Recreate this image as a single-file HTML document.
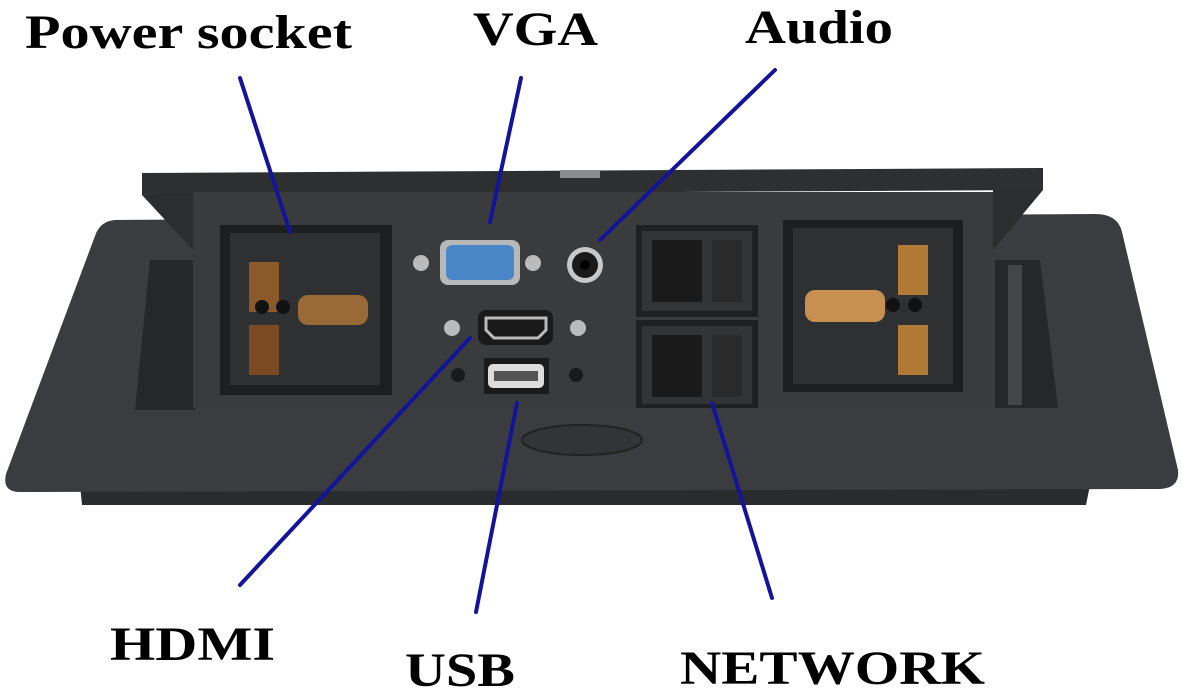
<!DOCTYPE html>
<html><head><meta charset="utf-8"><style>
html,body{margin:0;padding:0;background:#fff;}
svg{display:block}
text{font-family:"Liberation Serif",serif;font-weight:bold;fill:#000}
</style></head><body>
<svg width="1182" height="692" viewBox="0 0 1182 692">
<!-- base plate bottom strip -->
<polygon points="80,485 1090,485 1086,505 82,505" fill="#2a2b2d"/>
<!-- base plate -->
<path d="M115,220 L1095,214 Q1118,214 1122,232 L1178,470 Q1180,488 1160,489 L20,492 Q2,492 6,474 L95,236 Q100,221 115,220 Z" fill="#3b3c3f"/>
<!-- recess slots -->
<polygon points="150,260 195,260 195,410 135,410" fill="#26272a"/>
<polygon points="995,260 1040,260 1058,408 995,408" fill="#26272a"/>
<rect x="1008" y="265" width="14" height="140" fill="#444548"/>
<!-- lid -->
<polygon points="142,173 1043,168 1043,190 142,195" fill="#2e2f31"/>
<rect x="560" y="170" width="40" height="8" fill="#8a8b8d"/>
<polygon points="142,195 193,193 193,250" fill="#2c2d2f"/>
<polygon points="993,190 1043,190 993,250" fill="#2c2d2f"/>
<!-- front panel -->
<rect x="193" y="192" width="800" height="216" fill="#3a3b3d"/>
<!-- left socket -->
<rect x="220" y="225" width="172" height="170" fill="#1d1e1f"/>
<rect x="230" y="233" width="150" height="152" fill="#2f3032"/>
<rect x="249" y="262" width="30" height="50" fill="#8a5a2a"/>
<rect x="249" y="325" width="30" height="50" fill="#7a4a22"/>
<circle cx="262" cy="307" r="7" fill="#111"/><circle cx="283" cy="307" r="7" fill="#111"/>
<rect x="298" y="295" width="70" height="30" rx="10" fill="#9a6a36"/>
<!-- right socket -->
<rect x="783" y="220" width="180" height="172" fill="#1d1e1f"/>
<rect x="793" y="228" width="160" height="156" fill="#2f3032"/>
<rect x="898" y="245" width="30" height="50" fill="#b07a35"/>
<rect x="898" y="325" width="30" height="50" fill="#b07a35"/>
<circle cx="893" cy="305" r="7" fill="#111"/><circle cx="915" cy="305" r="7" fill="#111"/>
<rect x="805" y="290" width="80" height="32" rx="10" fill="#c89050"/>
<!-- RJ45 -->
<rect x="636" y="225" width="122" height="92" fill="#1f2022"/>
<rect x="642" y="231" width="110" height="80" fill="#333436"/>
<rect x="652" y="240" width="50" height="62" fill="#1a1a1b"/>
<rect x="712" y="240" width="30" height="62" fill="#2a2a2b"/>
<rect x="636" y="320" width="122" height="88" fill="#1f2022"/>
<rect x="642" y="326" width="110" height="78" fill="#333436"/>
<rect x="652" y="335" width="50" height="62" fill="#1a1a1b"/>
<rect x="712" y="335" width="30" height="62" fill="#2a2a2b"/>
<!-- VGA -->
<rect x="440" y="240" width="80" height="45" rx="8" fill="#b8b8b8"/>
<rect x="446" y="245" width="68" height="35" rx="6" fill="#4a86c8"/>
<circle cx="421" cy="263" r="8" fill="#bbb"/><circle cx="533" cy="263" r="8" fill="#bbb"/>
<!-- audio -->
<circle cx="585" cy="265" r="18" fill="#c8c8c8"/><circle cx="585" cy="265" r="13" fill="#1a1a1a"/><circle cx="585" cy="265" r="5" fill="#000"/>
<!-- HDMI -->
<rect x="478" y="310" width="75" height="35" rx="8" fill="#1a1a1a"/>
<path d="M486,318 H546 V330 L538,338 H494 L486,330 Z" fill="none" stroke="#bbb" stroke-width="3"/>
<circle cx="452" cy="328" r="8" fill="#bbb"/><circle cx="578" cy="328" r="8" fill="#bbb"/>
<!-- USB -->
<rect x="484" y="358" width="65" height="36" fill="#1a1a1a"/>
<rect x="488" y="364" width="56" height="24" rx="5" fill="#ddd"/>
<rect x="494" y="371" width="44" height="10" fill="#555"/>
<circle cx="458" cy="375" r="7" fill="#1a1a1a"/><circle cx="576" cy="375" r="7" fill="#1a1a1a"/>
<!-- oval -->
<ellipse cx="582" cy="440" rx="60" ry="15" fill="#333436" stroke="#222" stroke-width="2"/>
<!-- lines -->
<g stroke="#14149a" stroke-width="4" stroke-linecap="round">
<line x1="240" y1="78" x2="290" y2="232"/>
<line x1="521" y1="78" x2="490" y2="222"/>
<line x1="775" y1="70" x2="600" y2="240"/>
<line x1="240" y1="585" x2="470" y2="338"/>
<line x1="476" y1="612" x2="517" y2="403"/>
<line x1="772" y1="598" x2="712" y2="403"/>
</g>
<!-- labels -->
<text x="25" y="48" font-size="48" textLength="327" lengthAdjust="spacingAndGlyphs">Power socket</text>
<text x="473" y="45" font-size="48" textLength="125" lengthAdjust="spacingAndGlyphs">VGA</text>
<text x="745" y="43" font-size="48" textLength="148" lengthAdjust="spacingAndGlyphs">Audio</text>
<text x="110" y="660" font-size="48" textLength="165" lengthAdjust="spacingAndGlyphs">HDMI</text>
<text x="405" y="686" font-size="48" textLength="110" lengthAdjust="spacingAndGlyphs">USB</text>
<text x="680" y="684" font-size="48" textLength="305" lengthAdjust="spacingAndGlyphs">NETWORK</text>
</svg>
</body></html>
